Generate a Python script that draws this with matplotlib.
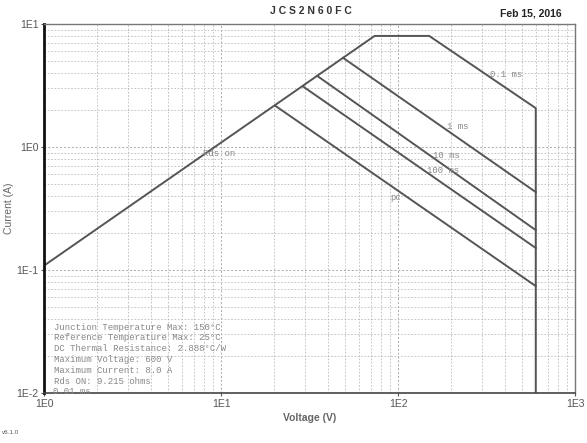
import matplotlib
matplotlib.use('Agg')
import matplotlib.pyplot as plt
import numpy as np

# enveloppe de la SOA (tension en V, courant en A)
env_v = [1.0, 73.7, 150.0, 600.0, 600.0]
env_i = [0.1085, 8.0, 8.0, 2.07, 0.01]

# limites de puissance pour chaque duree d'impulsion (debut sur la droite Rds on, fin a 600 V)
pulse_names = ['1 ms', '10 ms', '100 ms', 'DC']
start_v = [48.9, 34.9, 29.1, 20.2]
start_i = [5.31, 3.79, 3.10, 2.17]
end_v = [600.0, 600.0, 600.0, 600.0]
end_i = [0.43, 0.211, 0.151, 0.074]

info_lines = ['Junction Temperature Max: 150\u00b0C',
              'Reference Temperature Max: 25\u00b0C',
              'DC Thermal Resistance: 2.888\u00b0C/W',
              'Maximum Voltage: 600 V',
              'Maximum Current: 8.0 A',
              'Rds ON: 9.215 ohms']

fig = plt.figure(figsize=(5.87, 4.43), dpi=100)
ax = fig.add_axes([0.075, 0.1129, 0.9046, 0.8329])
ax.set_xscale('log')
ax.set_yscale('log')
ax.set_xlim(1, 1000)
ax.set_ylim(0.01, 10)

lc = '#555555'
ax.plot(env_v, env_i, color=lc, lw=1.4)
for i in range(len(pulse_names)):
    ax.plot([start_v[i], end_v[i]], [start_i[i], end_i[i]], color=lc, lw=1.4)

# grille pointillee
ax.grid(True, which='major', color='#aaaaaa', ls=(0, (2, 2)), lw=0.7)
ax.grid(True, which='minor', color='#bbbbbb', ls=(0, (2, 2)), lw=0.6)
ax.set_axisbelow(True)

for s in ['top', 'right']:
    ax.spines[s].set_color('#777777')
    ax.spines[s].set_linewidth(1.0)
ax.spines['left'].set_color('#111111')
ax.spines['left'].set_linewidth(2.0)
ax.spines['bottom'].set_color('#444444')
ax.spines['bottom'].set_linewidth(1.2)
ax.spines['bottom'].set_linestyle((0, (1.5, 1)))

ax.set_xticks([1, 10, 100, 1000])
ax.set_xticklabels(['1E0', '1E1', '1E2', '1E3'])
ax.set_yticks([0.01, 0.1, 1, 10])
ax.set_yticklabels(['1E-2', '1E-1', '1E0', '1E1'])
ax.tick_params(which='both', direction='out', labelsize=7.5, labelcolor='#555555',
               color='#555555', length=2, pad=2)
ax.tick_params(which='minor', length=0)
for lab in ax.get_xticklabels() + ax.get_yticklabels():
    lab.set_fontfamily('Liberation Sans')

ax.set_xlabel('Voltage (V)', fontsize=7.5, fontweight='bold', color='#666666',
              family='Liberation Sans')
ax.xaxis.set_label_coords(0.5, -0.055)
ax.set_ylabel('Current (A)', fontsize=7.5, color='#666666', family='Liberation Sans')
ax.yaxis.set_label_coords(-0.057, 0.5)

# etiquettes des courbes
tc = '#888888'
mono = dict(family='Liberation Mono', fontsize=6.5, color=tc, va='center')
ax.text(331, 3.92, '0.1 ms', **mono)
ax.text(189, 1.46, '1 ms', **mono)
ax.text(158, 0.86, '10 ms', **mono)
ax.text(146, 0.65, '100 ms', **mono)
ax.text(90, 0.385, 'pc', **mono)
ax.text(7.9, 0.89, 'Rds on', **mono)
ax.text(1.12, 0.0102, '0.01 ms', **mono)

for k, t in enumerate(info_lines):
    fig.text(54 / 587, 1 - (327 + 10.8 * k) / 443, t, family='Liberation Mono',
             fontsize=6.5, color=tc, va='center')

fig.text(0.53, 1 - 11 / 443, 'J C S 2 N 6 0 F C', fontsize=7.5, fontweight='bold',
         color='#333333', ha='center', va='center', family='Liberation Sans')
fig.text(562 / 587, 1 - 13 / 443, 'Feb 15, 2016', fontsize=7.5, fontweight='bold',
         color='#222222', ha='right', va='center', family='Liberation Sans')
fig.text(2 / 587, 1 - 433 / 443, 'v6.1.0', fontsize=4.5, color='#555555',
         va='center', family='Liberation Sans')

fig.savefig('out.png', dpi=100)
